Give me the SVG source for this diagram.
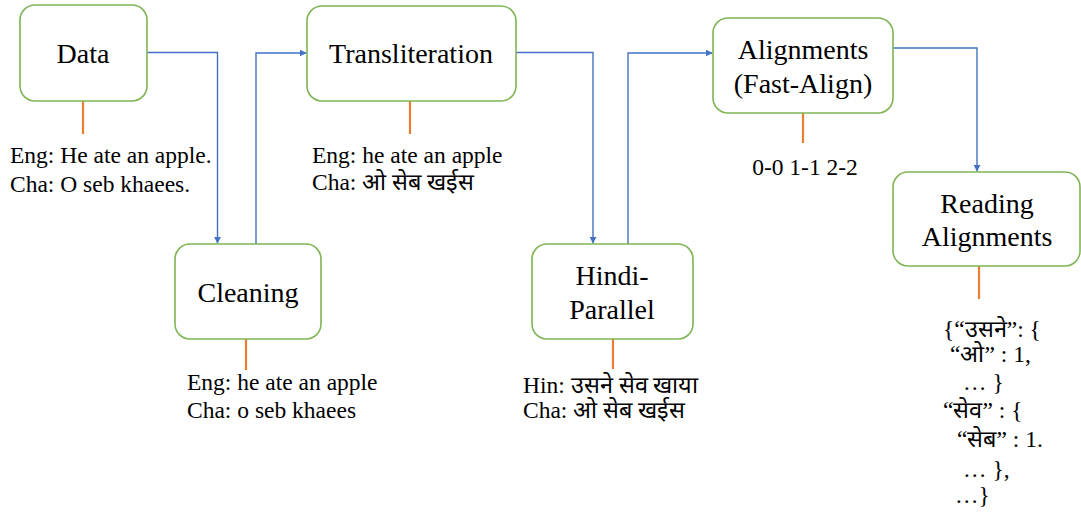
<svg xmlns="http://www.w3.org/2000/svg" width="1081" height="512" viewBox="0 0 1081 512">
  <style>
    .box { fill: #ffffff; stroke: #7fb555; stroke-width: 1.6; }
    .label { font-family: "Liberation Serif", serif; font-size: 28px; fill: #000; text-anchor: middle; }
    .note { font-family: "Liberation Serif", serif; font-size: 23.5px; fill: #000; }
    .flow { fill: none; stroke: #4472c4; stroke-width: 1.4; }
    .stem { stroke: #ed7d31; stroke-width: 2.2; }
  </style>
  <defs>
    <marker id="arrow" viewBox="0 0 10 10" refX="9" refY="5" markerWidth="7" markerHeight="7" orient="auto" markerUnits="userSpaceOnUse">
      <path d="M0,0 L10,5 L0,10 z" fill="#4472c4"/>
    </marker>
  </defs>

  <!-- pipeline connectors -->
  <g id="connectors">
    <path class="flow" d="M147,52.5 H217.5 V243" marker-end="url(#arrow)"/>
    <path class="flow" d="M256,244 V53 H306" marker-end="url(#arrow)"/>
    <path class="flow" d="M516,52.5 H593 V243" marker-end="url(#arrow)"/>
    <path class="flow" d="M628,244 V53 H712" marker-end="url(#arrow)"/>
    <path class="flow" d="M893,48 H977 V171" marker-end="url(#arrow)"/>
    <line class="stem" x1="83" y1="101" x2="83" y2="134"/>
    <line class="stem" x1="410" y1="101" x2="410" y2="134"/>
    <line class="stem" x1="803" y1="113" x2="803" y2="143"/>
    <line class="stem" x1="246" y1="339" x2="246" y2="370"/>
    <line class="stem" x1="613" y1="339" x2="613" y2="369"/>
    <line class="stem" x1="979" y1="266" x2="979" y2="299"/>
  </g>

  <g id="data">
    <rect class="box" x="20" y="5" width="127" height="96" rx="15"/>
    <text class="label" font-family="Liberation Serif" x="83" y="63">Data</text>
    <text class="note" font-family="Liberation Serif" x="10" y="163">Eng: He ate an apple.</text>
    <text class="note" font-family="Liberation Serif" x="10" y="192">Cha: O seb khaees.</text>
  </g>

  <g id="cleaning">
    <rect class="box" x="175" y="244" width="146" height="95" rx="15"/>
    <text class="label" font-family="Liberation Serif" x="248" y="302">Cleaning</text>
    <text class="note" font-family="Liberation Serif" x="187" y="390">Eng: he ate an apple</text>
    <text class="note" font-family="Liberation Serif" x="187" y="418">Cha: o seb khaees</text>
  </g>

  <g id="transliteration">
    <rect class="box" x="307" y="6" width="209" height="95" rx="15"/>
    <text class="label" font-family="Liberation Serif" x="411" y="63">Transliteration</text>
    <text class="note" font-family="Liberation Serif" x="312" y="163">Eng: he ate an apple</text>
    <text class="note" font-family="Liberation Serif" x="312" y="190">Cha: ओ सेब खईस</text>
  </g>

  <g id="hindi-parallel">
    <rect class="box" x="532" y="244" width="161" height="95" rx="15"/>
    <text class="label" font-family="Liberation Serif" x="612" y="285">Hindi-</text>
    <text class="label" font-family="Liberation Serif" x="612" y="319">Parallel</text>
    <text class="note" font-family="Liberation Serif" x="523" y="393">Hin: उसने सेव खाया</text>
    <text class="note" font-family="Liberation Serif" x="523" y="418">Cha: ओ सेब खईस</text>
  </g>

  <g id="alignments">
    <rect class="box" x="713" y="18" width="180" height="95" rx="15"/>
    <text class="label" font-family="Liberation Serif" x="803" y="59">Alignments</text>
    <text class="label" font-family="Liberation Serif" x="803" y="93">(Fast-Align)</text>
    <text class="note" font-family="Liberation Serif" x="805" y="175" text-anchor="middle">0-0 1-1 2-2</text>
  </g>

  <g id="reading-alignments">
    <rect class="box" x="893" y="172" width="187" height="94" rx="15"/>
    <text class="label" font-family="Liberation Serif" x="987" y="213">Reading</text>
    <text class="label" font-family="Liberation Serif" x="987" y="246">Alignments</text>
    <text class="note" font-family="Liberation Serif" x="943" y="337">{“उसने”: {</text>
    <text class="note" font-family="Liberation Serif" x="950" y="362">“ओ” : 1,</text>
    <text class="note" font-family="Liberation Serif" x="963" y="390">… }</text>
    <text class="note" font-family="Liberation Serif" x="943" y="418">“सेव” : {</text>
    <text class="note" font-family="Liberation Serif" x="957" y="447">“सेब” : 1.</text>
    <text class="note" font-family="Liberation Serif" x="963" y="477">… },</text>
    <text class="note" font-family="Liberation Serif" x="955" y="503">…}</text>
  </g>
</svg>
